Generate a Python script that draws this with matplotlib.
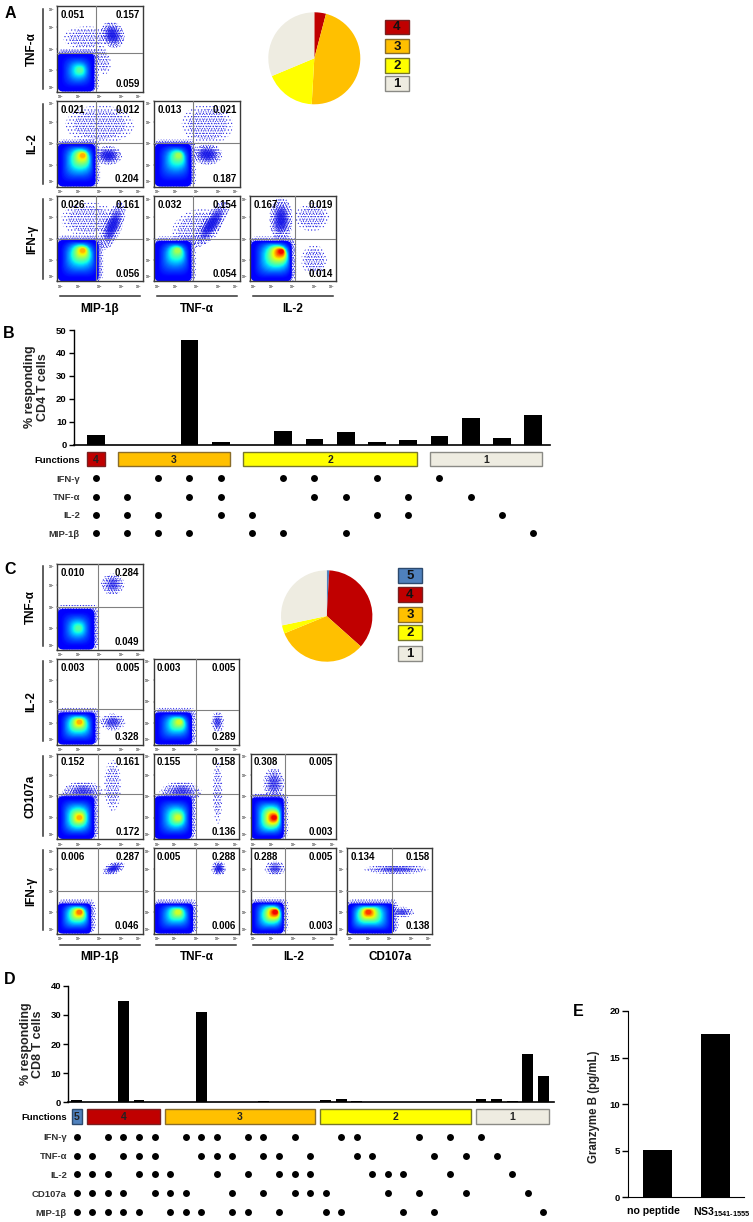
"""
Multi-panel flow cytometry figure: dot plots, pies, polyfunctionality bars.
Density clouds are drawn as nested shapes and dotted ellipses read off the picture.
"""
import matplotlib
matplotlib.use("Agg")
import numpy as np
import matplotlib.pyplot as plt
from matplotlib.patches import Rectangle, Ellipse, FancyBboxPatch
from matplotlib.transforms import ScaledTranslation

plt.rcParams["font.family"] = ["Liberation Sans", "DejaVu Sans"]
plt.rcParams["font.weight"] = "bold"
plt.rcParams["axes.labelweight"] = "bold"
plt.rcParams["mathtext.fontset"] = "custom"
plt.rcParams["mathtext.rm"] = "Liberation Sans:bold"
plt.rcParams["mathtext.bf"] = "Liberation Sans:bold"
plt.rcParams["mathtext.it"] = "Liberation Sans:bold"
plt.rcParams["hatch.linewidth"] = 0.4

W, H = 753, 1222
RED, ORANGE, YELLOW, GREY, BLUE = "#C00000", "#FFC000", "#FFFF00", "#EEECE1", "#4F81BD"
FILL = {5: BLUE, 4: RED, 3: ORANGE, 2: YELLOW, 1: GREY}
EDGE = {5: "#2c4a6e", 4: "#7a1f1f", 3: "#8a6d2a", 2: "#77772a", 1: "#8a8a85"}

# panel A, one row per plot: col, row
A_POS = [(0, 0), (0, 1), (1, 1), (0, 2), (1, 2), (2, 2)]
A_NUMS = [("0.051", "0.157", "0.059"), ("0.021", "0.012", "0.204"), ("0.013", "0.021", "0.187"),
          ("0.026", "0.161", "0.056"), ("0.032", "0.154", "0.054"), ("0.167", "0.019", "0.014")]
A_GATES = [(1.84, 1.82), (1.84, 2.03), (1.84, 2.03), (1.84, 2.0), (1.84, 2.0), (2.12, 2.0)]
# core blob: x end, y end, centre x, centre y, peak colour
A_CORES = [(1.75, 1.8, 1.07, 1.0, 0.45), (1.8, 2.0, 1.2, 1.45, 0.72), (1.75, 2.0, 1.15, 1.45, 0.55),
           (1.95, 1.95, 1.2, 1.45, 0.72), (1.75, 1.9, 1.1, 1.45, 0.55), (1.95, 1.9, 1.45, 1.4, 0.9)]
# clouds: x, y, width, height, angle, density 1-3
A_CLOUDS = [
    [(2.6, 2.65, 1.1, 1.3, 30, 3), (2.1, 1.5, 0.8, 1.4, 15, 1), (1.4, 2.5, 2.2, 1.1, 0, 1)],
    [(2.4, 1.45, 1.3, 0.9, 0, 3), (2.0, 2.9, 3.2, 1.8, 0, 1)],
    [(2.5, 1.5, 1.4, 1.0, 0, 3), (2.5, 2.9, 2.4, 1.9, 0, 1)],
    [(2.6, 2.6, 0.9, 2.4, -22, 3), (1.5, 2.9, 2.6, 1.6, 0, 1)],
    [(2.7, 2.7, 0.9, 2.6, -35, 3), (2.0, 2.5, 2.4, 1.7, 20, 1)],
    [(1.45, 2.9, 1.1, 2.1, 0, 3), (3.0, 1.0, 1.2, 1.4, 0, 1), (2.9, 3.0, 1.6, 1.3, 0, 1)],
]
A_ROWS = ["TNF-α", "IL-2", "IFN-γ"]
A_COLS = ["MIP-1β", "TNF-α", "IL-2"]

# panel C
C_POS = [(0, 0), (0, 1), (1, 1), (0, 2), (1, 2), (2, 2), (0, 3), (1, 3), (2, 3), (3, 3)]
C_NUMS = [("0.010", "0.284", "0.049"), ("0.003", "0.005", "0.328"), ("0.003", "0.005", "0.289"),
          ("0.152", "0.161", "0.172"), ("0.155", "0.158", "0.136"), ("0.308", "0.005", "0.003"),
          ("0.006", "0.287", "0.046"), ("0.005", "0.288", "0.006"), ("0.288", "0.005", "0.003"),
          ("0.134", "0.158", "0.138")]
C_GATES = [(1.92, 2.0), (1.92, 1.67), (2.0, 1.6), (1.9, 2.09), (2.0, 2.09), (1.62, 2.05),
           (1.9, 1.98), (2.0, 1.98), (1.62, 1.98), (2.1, 1.98)]
C_CORES = [(1.75, 1.9, 1.0, 1.0, 0.45), (1.8, 1.5, 1.05, 1.05, 0.72), (1.8, 1.5, 1.2, 1.05, 0.6),
           (1.75, 2.0, 1.05, 1.0, 0.72), (1.8, 2.0, 1.15, 1.0, 0.6), (1.55, 1.95, 1.1, 1.0, 0.9),
           (1.6, 1.4, 1.05, 1.0, 0.78), (1.85, 1.4, 1.15, 1.0, 0.6), (1.55, 1.45, 1.15, 1.0, 0.9),
           (2.2, 1.4, 1.0, 1.0, 0.85)]
C_CLOUDS = [
    [(2.6, 3.05, 1.1, 1.0, 0, 2)],
    [(2.6, 1.05, 1.2, 0.8, 0, 2)],
    [(3.0, 1.05, 0.6, 1.0, 0, 2)],
    [(2.6, 2.5, 0.8, 2.4, 0, 1), (1.2, 2.2, 1.9, 1.0, 0, 2)],
    [(3.0, 2.2, 0.45, 3.0, 0, 1), (1.3, 2.2, 1.9, 1.0, 0, 2)],
    [(1.1, 2.6, 1.0, 1.5, 0, 2)],
    [(2.65, 3.05, 1.1, 0.55, 20, 3)],
    [(3.05, 3.05, 0.7, 0.7, 0, 3)],
    [(1.15, 3.05, 1.0, 0.7, 0, 2)],
    [(2.3, 3.0, 3.0, 0.45, 0, 2), (2.6, 1.0, 1.1, 0.5, 0, 2)],
]
C_ROWS = ["TNF-α", "IL-2", "CD107a", "IFN-γ"]
C_COLS = ["MIP-1β", "TNF-α", "IL-2", "CD107a"]

PIE_A_FUNCS = [4, 3, 2, 1]
PIE_A_VALS = [4.1, 46.8, 17.8, 31.3]
PIE_C_FUNCS = [5, 4, 3, 2, 1]
PIE_C_VALS = [0.9, 35.7, 32.2, 2.9, 28.3]

B_VALS = [4.1, 0, 0, 45.6, 1.2, 0, 6.0, 2.5, 5.4, 1.0, 1.9, 3.6, 11.5, 2.9, 12.9]
B_GROUPS = [(4, 0, 0), (3, 1, 4), (2, 5, 10), (1, 11, 14)]
B_ROWS = ["IFN-γ", "TNF-α", "IL-2", "MIP-1β"]
B_DOTS = [[0, 2, 3, 4, 6, 7, 9, 11], [0, 1, 3, 4, 7, 8, 10, 12],
          [0, 1, 2, 4, 5, 9, 10, 13], [0, 1, 2, 3, 5, 6, 8, 14]]

D_VALS = [0.9, 0, 0.1, 34.7, 0.9, 0, 0, 0.2, 31.1, 0, 0, 0, 0.3, 0, 0, 0,
          0.9, 1.2, 0.6, 0, 0, 0, 0, 0, 0, 0, 1.0, 1.0, 0.3, 16.5, 9.0]
D_GROUPS = [(5, 0, 0), (4, 1, 5), (3, 6, 15), (2, 16, 25), (1, 26, 30)]
D_ROWS = ["IFN-γ", "TNF-α", "IL-2", "CD107a", "MIP-1β"]
D_DOTS = [[0, 2, 3, 4, 5, 7, 8, 9, 11, 12, 14, 17, 18, 22, 24, 26],
          [0, 1, 3, 4, 5, 8, 9, 10, 12, 13, 15, 18, 19, 23, 25, 27],
          [0, 1, 2, 4, 5, 6, 9, 11, 13, 14, 15, 19, 20, 21, 24, 28],
          [0, 1, 2, 3, 5, 6, 7, 10, 12, 14, 15, 16, 20, 22, 25, 29],
          [0, 1, 2, 3, 4, 6, 7, 8, 10, 11, 13, 16, 17, 21, 23, 30]]

E_LABELS = ["no peptide", r"NS3$_{\text{1541-1555}}$"]
E_VALS = [5.1, 17.5]

# dotted layers per cloud density: (size factor, hatch count)
LAYERS = {1: [(1.0, 5), (0.75, 7)],
          2: [(1.0, 5), (0.9, 7), (0.7, 6), (0.5, 9)],
          3: [(1.0, 5), (0.95, 7), (0.8, 6), (0.65, 9), (0.5, 11)]}

fig = plt.figure(figsize=(W / 100, H / 100), dpi=100)
ov = fig.add_axes([0, 0, 1, 1], zorder=5)
ov.set_xlim(0, W); ov.set_ylim(H, 0); ov.axis("off"); ov.patch.set_alpha(0)


def px_axes(x0, y0, x1, y1):
    return fig.add_axes([x0 / W, 1 - y1 / H, (x1 - x0) / W, (y1 - y0) / H])


def dot_plot(box, gate, core, clouds, nums):
    ax = px_axes(*box)
    ax.set_xlim(0, 4); ax.set_ylim(0, 4)
    for c in clouds:
        x, y, w, h, ang, dens = c
        for k, n in LAYERS[dens]:
            ax.add_patch(Ellipse((x, y), w * k, h * k, angle=ang, fc="none", ec="#2323e6", lw=0,
                                 hatch="." * n, zorder=1))
        if dens > 1:
            for k, a in [(0.6, 0.15), (0.42, 0.25), (0.25, 0.3)]:
                ax.add_patch(Ellipse((x, y), w * k, h * k, angle=ang, fc="#1414e8", ec="none",
                                     alpha=a * (dens - 1), zorder=1.2))
    xe, ye, cx, cy, peak = core
    # fuzzy rim of the population
    for grow, n in [(0.22, 6), (0.15, 9), (0.08, 11)]:
        ax.add_patch(FancyBboxPatch((0, 0), xe + grow, ye + grow, boxstyle="round,pad=0,rounding_size=0.35",
                                    fc="none", ec="#2323e6", lw=0, hatch="." * n, zorder=1.5))
    for t in np.linspace(0, 1, 30):
        x0 = 0.03 + t * (cx - 0.03 - 0.12)
        x1 = xe + t * (cx + 0.12 - xe)
        y0 = 0.0 + t * (cy - 0.1)
        y1 = ye + t * (cy + 0.1 - ye)
        r = min(x1 - x0, y1 - y0) / 2 * min(1, 0.3 + 1.4 * t)
        col = plt.cm.jet(0.11 + (peak - 0.11) * t ** 1.7)
        ax.add_patch(FancyBboxPatch((x0, y0), x1 - x0, y1 - y0, boxstyle="round,pad=0,rounding_size=%.3f" % r,
                                    fc=col, ec="none", zorder=2))
    ax.axvline(gate[0], color="#808080", lw=0.8, zorder=3)
    ax.axhline(gate[1], color="#808080", lw=0.8, zorder=3)
    ticks = [0, 1, 2, 3, 4]
    labs = ["10$^{%d}$" % t for t in ticks]
    ax.set_xticks(ticks, labs); ax.set_yticks(ticks, labs)
    ax.tick_params(length=1, width=0.3, pad=0.6, labelsize=2.4, colors="#333333")
    ax.get_xticklabels()[-1].set_ha("right")
    ax.get_xticklabels()[0].set_ha("left")
    ax.get_yticklabels()[-1].set_va("top")
    ax.get_yticklabels()[0].set_va("bottom")
    for s in ax.spines.values():
        s.set_color("#3a3a3a"); s.set_linewidth(1.0)
    ax.text(0.04, 0.895, nums[0], transform=ax.transAxes, fontsize=7, ha="left", va="center", zorder=4)
    ax.text(0.965, 0.895, nums[1], transform=ax.transAxes, fontsize=7, ha="right", va="center", zorder=4)
    ax.text(0.965, 0.085, nums[2], transform=ax.transAxes, fontsize=7, ha="right", va="center", zorder=4)


def flow_block(pos, nums, gates, cores, clouds, xs, ys, size):
    for p, n, g, c, cl in zip(pos, nums, gates, cores, clouds):
        x0, y0 = xs[p[0]], ys[p[1]]
        dot_plot((x0, y0, x0 + size, y0 + size), g, c, cl, n)


def pie(cx, cy, r, vals, funcs):
    ax = px_axes(cx - r, cy - r, cx + r, cy + r)
    ax.pie(vals, colors=[FILL[f] for f in funcs], startangle=90, counterclock=False, radius=1)
    ax.set_xlim(-1, 1); ax.set_ylim(-1, 1)


def legend(x0, x1, spans, funcs):
    for (y0, y1), f in zip(spans, funcs):
        ov.add_patch(Rectangle((x0, y0), x1 - x0, y1 - y0, fc=FILL[f], ec=EDGE[f], lw=1.0))
        ov.text((x0 + x1) / 2, (y0 + y1) / 2 + 0.5, str(f), fontsize=9.5, ha="center", va="center", color="#111111")


def bars(box, x0, dx, width, vals, ymax, yt):
    ax = px_axes(*box)
    ax.set_xlim((box[0] - x0) / dx, (box[2] - x0) / dx)
    ax.set_ylim(0, ymax)
    ax.bar(np.arange(len(vals)), vals, width=width, color="black")
    ax.set_xticks([]); ax.set_yticks(yt)
    ax.tick_params(axis="y", length=3.5, width=1, labelsize=6.8, pad=1.5)
    ax.spines["top"].set_visible(False); ax.spines["right"].set_visible(False)
    ax.spines["left"].set_linewidth(1.0); ax.spines["bottom"].set_linewidth(1.2)
    return ax


def matrix(box, x0, dx, r0, dr, bar_span, groups, rows, dots, pad):
    ax = px_axes(*box)
    ax.set_xlim((box[0] - x0) / dx, (box[2] - x0) / dx)
    ax.set_ylim((box[3] - r0) / dr, (box[1] - r0) / dr)
    for s in ax.spines.values():
        s.set_visible(False)
    yb0, yb1 = (bar_span[0] - r0) / dr, (bar_span[1] - r0) / dr
    for f, a, b in groups:
        ax.add_patch(Rectangle((a - pad, yb0), b - a + 2 * pad, yb1 - yb0, fc=FILL[f], ec=EDGE[f], lw=1.0))
        ax.text((a + b) / 2, (yb0 + yb1) / 2 + 0.03, str(f), fontsize=7.5, ha="center", va="center", color="#222222")
    for i, d in enumerate(dots):
        ax.scatter(d, [i] * len(d), s=25, color="black", linewidths=0, zorder=3)
    ax.set_xticks([])
    ax.set_yticks([(yb0 + yb1) / 2] + list(range(len(rows))), ["Functions"] + rows)
    ax.tick_params(axis="y", length=0, pad=1.5, labelsize=6.8)
    for l in ax.get_yticklabels()[1:]:
        l.set_color("#333333")


# panel A
flow_block(A_POS, A_NUMS, A_GATES, A_CORES, A_CLOUDS, [57, 154, 250], [6, 101, 196], 85.5)
for lab, y in zip(A_ROWS, [6, 101, 196]):
    ov.plot([43, 43], [y + 3, y + 83], color="#333333", lw=1.1)
    ov.text(32, y + 43, lab, rotation=90, fontsize=8.5, ha="center", va="center")
for lab, x in zip(A_COLS, [57, 154, 250]):
    ov.plot([x + 3, x + 83], [296, 296], color="#333333", lw=1.1)
    ov.text(x + 43, 309, lab, fontsize=8.5, ha="center", va="center")
pie(314.3, 58.3, 46, PIE_A_VALS, PIE_A_FUNCS)
legend(385, 409, [(19.7, 34.3), (38.7, 53.3), (58.3, 72.7), (76.3, 91)], PIE_A_FUNCS)

# panel B
bars((73.6, 330, 550, 444.7), 95.7, 31.25, 0.57, B_VALS, 50, [0, 10, 20, 30, 40, 50])
matrix((82, 448, 550, 545), 95.7, 31.25, 478.4, 18.25, (452, 466.3), B_GROUPS, B_ROWS, B_DOTS, 0.29)
ov.text(36.5, 387, "% responding\nCD4 T cells", rotation=90, fontsize=9, ha="center", va="center",
        linespacing=1.05, color="#222222")

# panel C
flow_block(C_POS, C_NUMS, C_GATES, C_CORES, C_CLOUDS, [57, 153.5, 250.5, 347], [564, 659, 753.5, 848], 85.5)
for lab, y in zip(C_ROWS, [564, 659, 753.5, 848]):
    ov.plot([43, 43], [y + 2, y + 82], color="#333333", lw=1.1)
    ov.text(31, y + 43, lab, rotation=90, fontsize=8.5, ha="center", va="center")
for lab, x in zip(C_COLS, [57, 153.5, 250.5, 347]):
    ov.plot([x + 3, x + 83], [945, 945], color="#333333", lw=1.1)
    ov.text(x + 43, 957, lab, fontsize=8.5, ha="center", va="center")
pie(326.7, 616, 45.7, PIE_C_VALS, PIE_C_FUNCS)
legend(398, 422, [(568.3, 583), (587.3, 602), (607, 621.7), (625, 639.7), (646, 660.7)], PIE_C_FUNCS)

# panel D
bars((68, 985.7, 553.6, 1102.3), 76.8, 15.55, 0.69, D_VALS, 40, [0, 10, 20, 30, 40])
matrix((69, 1105, 553.6, 1220), 76.8, 15.55, 1136.7, 18.85, (1109.3, 1123.7), D_GROUPS, D_ROWS, D_DOTS, 0.34)
ov.text(32, 1044, "% responding\nCD8 T cells", rotation=90, fontsize=9, ha="center", va="center",
        linespacing=1.05, color="#222222")

# panel E
ax = px_axes(627.7, 1011, 744.3, 1197.3)
ax.set_xlim((627.7 - 657.2) / 58.5, (744.3 - 657.2) / 58.5)
ax.set_ylim(0, 20)
ax.bar([0, 1], E_VALS, width=0.5, color="black")
ax.set_xticks([0, 1], E_LABELS)
ax.set_yticks([0, 5, 10, 15, 20])
ax.tick_params(axis="x", length=0, labelsize=7.6, pad=6)
ax.tick_params(axis="y", length=4, width=1, labelsize=6.8, pad=1.5)
ax.spines["top"].set_visible(False); ax.spines["right"].set_visible(False)
for lab, dx in zip(ax.get_xticklabels(), [-4, 6]):
    lab.set_transform(lab.get_transform() + ScaledTranslation(dx / 100, 0, fig.dpi_scale_trans))
ov.text(594, 1107, "Granzyme B (pg/mL)", rotation=90, fontsize=8.3, ha="center", va="center", color="#222222")

for lab, x, y in [("A", 10, 13), ("B", 9, 333), ("C", 10, 569), ("D", 10, 980), ("E", 578, 1012)]:
    ov.text(x, y, lab, fontsize=11.5, ha="center", va="center")

fig.savefig("out.png", dpi=100)
